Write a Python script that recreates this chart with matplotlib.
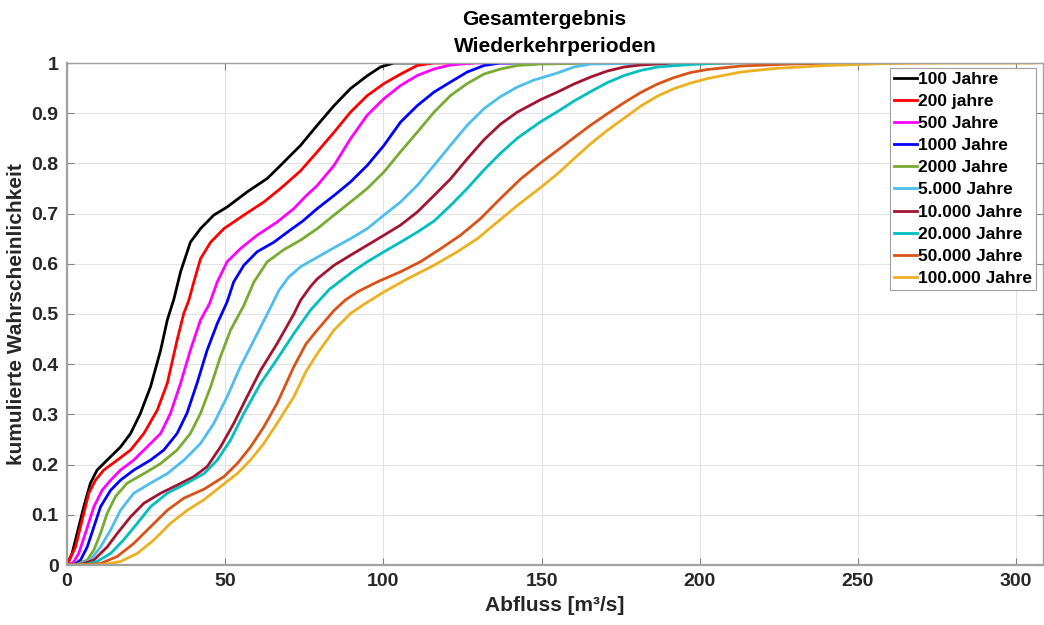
import numpy as np
import matplotlib
matplotlib.use("Agg")
import matplotlib.pyplot as plt
from matplotlib.ticker import FuncFormatter

plt.rcParams['font.family'] = ['Liberation Sans', 'DejaVu Sans']
plt.rcParams['font.weight'] = 'bold'

# values (Abfluss in m3/s, cumulative probability)
x100 = [0, 1.6, 3.2, 5.3, 7.4, 9.5, 12.7, 16.9, 20.1, 23.2, 26.4, 29.6, 31.7, 33.8, 35.9, 39.0,
        42.2, 46.4, 50.6, 56.9, 63.3, 67.5, 70.5, 73.7, 79.1, 84.4, 89.6, 95.0, 99.1, 103.3, 112.7]
y100 = [0, 0.023, 0.063, 0.116, 0.163, 0.189, 0.209, 0.235, 0.262, 0.302, 0.355, 0.428, 0.488, 0.53,
        0.584, 0.643, 0.670, 0.697, 0.713, 0.743, 0.770, 0.796, 0.815, 0.835, 0.876, 0.915, 0.949,
        0.975, 0.992, 1.0, 1.0]

x200 = [0, 2.7, 4.8, 6.9, 9.0, 11.6, 15.9, 20.1, 24.3, 28.5, 31.7, 34.8, 36.9, 38.5, 40.1, 42.2,
        45.4, 49.6, 55.9, 62.2, 67.5, 73.8, 79.1, 84.4, 89.6, 94.9, 100.2, 105.5, 110.7, 116, 128]
y200 = [0, 0.036, 0.09, 0.143, 0.169, 0.189, 0.209, 0.229, 0.262, 0.308, 0.362, 0.448, 0.501, 0.527,
        0.564, 0.610, 0.643, 0.670, 0.697, 0.723, 0.750, 0.785, 0.823, 0.862, 0.902, 0.935, 0.959,
        0.978, 0.995, 1.0, 1.0]

x500 = [0, 2, 3.7, 5.8, 8.5, 11.1, 13.8, 16.9, 21.1, 25.3, 29.6, 32.7, 35.9, 39.0, 42.2, 45.0, 47.5,
        50.6, 54.8, 60.1, 66.4, 71.7, 75.5, 79.1, 84.4, 89.6, 94.9, 100.2, 105.4, 110.7, 116, 121.2,
        128.6, 140]
y500 = [0, 0.005, 0.023, 0.063, 0.116, 0.149, 0.169, 0.189, 0.209, 0.235, 0.262, 0.302, 0.362, 0.428,
        0.488, 0.52, 0.564, 0.604, 0.630, 0.657, 0.683, 0.710, 0.735, 0.756, 0.796, 0.849, 0.896,
        0.929, 0.955, 0.975, 0.988, 0.996, 1.0, 1.0]

x1000 = [0, 2.5, 4.3, 6.4, 8.5, 10.6, 13.8, 16.9, 21.1, 26.4, 30.6, 34.8, 37.9, 41.1, 44.3, 47.5,
         50.6, 52.7, 55.9, 60.1, 65.4, 70.5, 74.5, 79.1, 84.4, 89.6, 94.9, 100.2, 105.4, 110.7, 116,
         121.2, 126.5, 131.8, 137, 155]
y1000 = [0, 0.002, 0.01, 0.036, 0.076, 0.116, 0.149, 0.169, 0.189, 0.209, 0.229, 0.262, 0.302, 0.362,
         0.428, 0.481, 0.524, 0.564, 0.597, 0.624, 0.643, 0.667, 0.685, 0.710, 0.736, 0.763, 0.796,
         0.836, 0.882, 0.915, 0.942, 0.962, 0.982, 0.995, 1.0, 1.0]

x2000 = [0, 3.5, 6.4, 8.5, 10.6, 12.7, 15.3, 19.0, 24.3, 29.6, 34.8, 39.0, 42.2, 45.4, 48.5, 51.7,
         55.9, 59.1, 63.3, 68.5, 73.8, 79.1, 84.4, 89.6, 94.9, 100.2, 105.4, 110.7, 116, 121.2, 126.5,
         131.8, 137, 142.3, 149.7, 170]
y2000 = [0, 0.002, 0.01, 0.03, 0.063, 0.103, 0.136, 0.163, 0.182, 0.202, 0.229, 0.262, 0.302, 0.355,
         0.415, 0.468, 0.517, 0.564, 0.604, 0.628, 0.647, 0.670, 0.697, 0.723, 0.750, 0.783, 0.823,
         0.862, 0.902, 0.935, 0.959, 0.978, 0.988, 0.995, 0.998, 1.0]

x5000 = [0, 4.5, 7.4, 10.6, 13.8, 16.9, 21.1, 26.4, 31.7, 37.0, 42.2, 46.4, 50.6, 54.8, 59.1, 62.5,
         64.5, 67.0, 70.0, 73.8, 79.1, 84.4, 89.6, 94.9, 100.2, 105.4, 110.7, 116, 121.2, 126.5,
         131.8, 137, 142.3, 147.6, 155, 160.2, 165.5, 190]
y5000 = [0, 0.002, 0.01, 0.036, 0.07, 0.109, 0.143, 0.163, 0.182, 0.209, 0.242, 0.282, 0.335, 0.395,
         0.448, 0.49, 0.515, 0.547, 0.573, 0.594, 0.613, 0.632, 0.650, 0.670, 0.697, 0.723, 0.756,
         0.796, 0.836, 0.876, 0.909, 0.933, 0.952, 0.966, 0.980, 0.992, 0.998, 1.0]

x10000 = [0, 5, 8.5, 12.7, 15.9, 20.1, 24.3, 29.6, 34.8, 40.1, 44.3, 48.5, 52.7, 56.9, 61.2, 66.4,
          71.7, 73.8, 77.0, 79.1, 84.4, 89.6, 94.9, 100.2, 105.4, 110.7, 116, 121.2, 126.5, 131.8,
          137, 142.3, 149.7, 155, 160.2, 165.5, 170.8, 176.1, 181.3, 191.9, 210]
y10000 = [0, 0.002, 0.01, 0.036, 0.063, 0.096, 0.123, 0.143, 0.159, 0.176, 0.196, 0.235, 0.282, 0.335,
          0.388, 0.441, 0.50, 0.527, 0.555, 0.570, 0.597, 0.617, 0.637, 0.657, 0.677, 0.703, 0.736,
          0.769, 0.809, 0.847, 0.878, 0.902, 0.927, 0.942, 0.958, 0.972, 0.984, 0.992, 0.996, 1.0, 1.0]

x20000 = [0, 6, 9.5, 13.8, 17.9, 22.2, 26.4, 31.7, 37.9, 43.3, 47.5, 51.7, 55.9, 61.2, 66.4, 71.7,
          77.0, 82.9, 90.2, 94.9, 100.2, 105.4, 110.7, 116, 121.2, 126.5, 131.8, 137, 142.3, 149.7,
          155, 160.2, 165.5, 170.8, 176.1, 181.3, 186.6, 197.1, 207.7, 230]
y20000 = [0, 0.001, 0.007, 0.023, 0.05, 0.083, 0.116, 0.143, 0.163, 0.182, 0.209, 0.249, 0.302, 0.362,
          0.410, 0.461, 0.508, 0.549, 0.584, 0.604, 0.624, 0.643, 0.663, 0.685, 0.716, 0.750, 0.787,
          0.820, 0.850, 0.883, 0.903, 0.924, 0.943, 0.961, 0.975, 0.985, 0.992, 0.997, 1.0, 1.0]

x50000 = [0, 7, 10.6, 15.9, 21.1, 26.4, 31.7, 36.9, 43.3, 49.6, 53.8, 58.0, 62.2, 66.4, 71.7, 75.5,
          79.1, 84.4, 88.0, 91.8, 98.1, 105.4, 111.7, 118.1, 124.4, 130.7, 137, 143.4, 149.7, 155,
          160.2, 165.5, 170.8, 176.1, 181.3, 186.6, 191.9, 197.1, 202.4, 213, 228.8, 245, 260]
y50000 = [0, 0.001, 0.003, 0.017, 0.043, 0.076, 0.109, 0.133, 0.151, 0.176, 0.202, 0.235, 0.275, 0.322,
          0.395, 0.44, 0.468, 0.507, 0.528, 0.544, 0.564, 0.584, 0.604, 0.630, 0.657, 0.690, 0.730,
          0.769, 0.801, 0.826, 0.851, 0.876, 0.899, 0.921, 0.941, 0.958, 0.971, 0.981, 0.987, 0.994,
          0.998, 1.0, 1.0]

x100000 = [0, 8, 11.6, 16.9, 22.2, 27.5, 32.7, 38.0, 43.3, 48.5, 53.8, 58.0, 62.2, 66.4, 71.7, 75.5,
           79.1, 84.4, 89.6, 93.8, 100.2, 107.6, 116, 123.4, 129.7, 136, 142.3, 149.7, 155, 160.2,
           165.5, 170.8, 176.1, 181.3, 186.6, 191.9, 197.1, 202.4, 213, 223.5, 240, 260, 280, 306]
y100000 = [0, 0.0, 0.001, 0.007, 0.023, 0.05, 0.083, 0.109, 0.130, 0.156, 0.182, 0.209, 0.242, 0.282,
           0.335, 0.385, 0.421, 0.468, 0.501, 0.519, 0.544, 0.570, 0.597, 0.624, 0.650, 0.683, 0.716,
           0.752, 0.779, 0.809, 0.839, 0.866, 0.890, 0.914, 0.934, 0.949, 0.960, 0.969, 0.982, 0.989,
           0.995, 0.999, 1.0, 1.0]

labels = ['100 Jahre', '200 jahre', '500 Jahre', '1000 Jahre', '2000 Jahre', '5.000 Jahre',
          '10.000 Jahre', '20.000 Jahre', '50.000 Jahre', '100.000 Jahre']
colors = ['#000000', '#FF0000', '#FF00FF', '#0000FF', '#77AC30', '#4DBEEE',
          '#A2142F', '#00BFBF', '#D95319', '#EDB120']
series = [(x100, y100), (x200, y200), (x500, y500), (x1000, y1000), (x2000, y2000),
          (x5000, y5000), (x10000, y10000), (x20000, y20000), (x50000, y50000),
          (x100000, y100000)]

fig = plt.figure(figsize=(10.44, 6.25), dpi=100)
ax = fig.add_axes([67/1044, 1 - 565/625, 976/1044, 502/625])

for (xs, ys), lab, col in zip(series, labels, colors):
    ax.plot(xs, ys, color=col, lw=2.0, label=lab, solid_joinstyle='round')

ax.set_xlim(0, 308.5)
ax.set_ylim(0, 1)
ax.set_xticks(np.arange(0, 301, 50))
ax.set_yticks(np.arange(0, 1.01, 0.1))
ax.yaxis.set_major_formatter(FuncFormatter(lambda v, p: '%g' % round(v, 1)))
ax.grid(True, color='#e3e3e3', lw=0.8)
ax.set_axisbelow(True)
ax.tick_params(direction='in', length=5, width=0.8, color='#808080', labelsize=14,
               labelcolor='#262626', top=True, right=True, pad=6)
for s in ax.spines.values():
    s.set_color('#a0a0a0')
    s.set_linewidth(1.0)
ax.spines['bottom'].set_linewidth(1.6)
ax.spines['left'].set_linewidth(1.6)

ax.set_xlabel('Abfluss [m³/s]', fontsize=15, fontweight='bold', color='#262626', labelpad=4)
ax.set_ylabel('kumulierte Wahrscheinlichkeit', fontsize=15, fontweight='bold', color='#262626',
              labelpad=4)

fig.text(544/1044, 1 - 25/625, 'Gesamtergebnis', ha='center', va='baseline', fontsize=15,
         fontweight='bold')
fig.text(555/1044, 1 - 52/625, 'Wiederkehrperioden', ha='center', va='baseline', fontsize=15,
         fontweight='bold')

leg = ax.legend(loc='upper right', bbox_to_anchor=(0.993, 0.991), borderaxespad=0,
                fontsize=12.5, handlelength=1.3, handletextpad=0.05, labelspacing=0.4,
                borderpad=0.25, fancybox=False, framealpha=1, edgecolor='#a0a0a0')
leg.get_frame().set_linewidth(0.8)
for t in leg.get_texts():
    t.set_fontweight('bold')

fig.savefig('out.png', dpi=100)
